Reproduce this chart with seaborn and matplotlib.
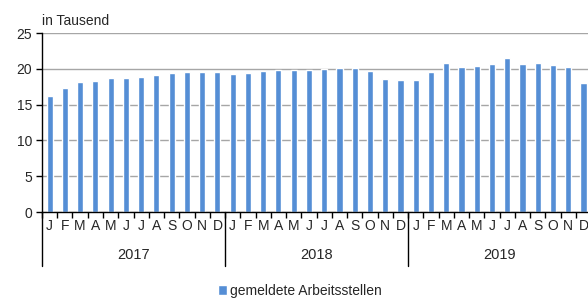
import matplotlib
matplotlib.use("Agg")
import matplotlib.pyplot as plt
import matplotlib.transforms as mtransforms
import numpy as np
import pandas as pd
import seaborn as sns

# data (thousands)
years = ["2017", "2018", "2019"]
month_letters = ["J", "F", "M", "A", "M", "J", "J", "A", "S", "O", "N", "D"]
values_2017 = [16.2, 17.3, 18.1, 18.3, 18.7, 18.7, 18.8, 19.1, 19.4, 19.5, 19.6, 19.5]
values_2018 = [19.3, 19.4, 19.7, 19.8, 19.9, 19.9, 20.0, 20.1, 20.1, 19.7, 18.6, 18.4]
values_2019 = [18.4, 19.5, 20.8, 20.3, 20.4, 20.7, 21.5, 20.7, 20.8, 20.5, 20.3, 18.0]
series_name = "gemeldete Arbeitsstellen"
y_label = "in Tausend"

bar_color = "#558ED5"

df = pd.DataFrame({
    "idx": np.arange(36),
    "value": values_2017 + values_2018 + values_2019,
})

sns.set_style("white")
plt.rcParams["font.family"] = ["Liberation Sans", "DejaVu Sans"]

fig = plt.figure(figsize=(5.88, 3.07), dpi=100)
ax = fig.add_axes([0.0714, 0.3094, 0.934, 0.5831])

sns.barplot(data=df, x="idx", y="value", color=bar_color, width=0.4,
            saturation=1, ax=ax, label=series_name)
handles, labels = ax.get_legend_handles_labels()
if ax.get_legend() is not None:
    ax.get_legend().remove()

ax.set_ylim(0, 25)
ax.set_xlim(-0.5, 35.5)
ax.set_yticks(range(0, 26, 5))
ax.yaxis.grid(True, color="#A6A6A6", linewidth=1)
ax.set_axisbelow(True)
ax.tick_params(axis="y", labelsize=10, length=4, width=1, color="black",
               left=True, pad=3)

for s in ["top", "right"]:
    ax.spines[s].set_visible(False)
for s in ["left", "bottom"]:
    ax.spines[s].set_color("black")
    ax.spines[s].set_linewidth(1)

# month labels at bar centres, short ticks at month boundaries
ax.set_xticks(np.arange(36))
ax.set_xticklabels(month_letters * 3)
ax.tick_params(axis="x", which="major", length=0, labelsize=10, pad=5)
ax.set_xticks(np.arange(-0.5, 36, 1), minor=True)
ax.tick_params(axis="x", which="minor", length=4, width=1, color="black",
               direction="out", bottom=True)
ax.set_xlabel("")
ax.set_ylabel("")

# year separators and labels
trans = mtransforms.blended_transform_factory(ax.transData, ax.transAxes)
for k, yr in enumerate(years):
    ax.plot([k * 12 - 0.5] * 2, [0, -0.3], transform=trans, color="black",
            linewidth=1, clip_on=False)
    ax.text(k * 12 + 5.5, -0.24, yr, transform=trans, ha="center",
            va="center", fontsize=10.5)
ax.plot([35.5] * 2, [0, -0.3], transform=trans, color="black",
        linewidth=1, clip_on=False)

ax.text(-0.5, 1.03, y_label, transform=trans, ha="left", va="bottom",
        fontsize=10)

fig.legend(handles, labels, loc="lower center", bbox_to_anchor=(0.51, -0.01),
           frameon=False, fontsize=10, handlelength=0.7, handleheight=0.7,
           handletextpad=0.2)

fig.savefig("out.png", dpi=100)
